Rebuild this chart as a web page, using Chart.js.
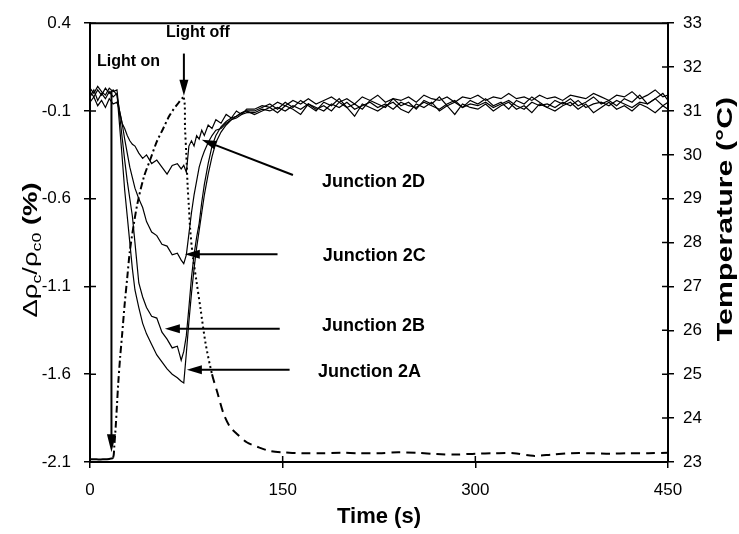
<!DOCTYPE html>
<html>
<head>
<meta charset="utf-8">
<script src="https://cdn.jsdelivr.net/npm/chart.js@4/dist/chart.umd.min.js"></script>
<style>
  body { margin: 0; background: #fff; }
  canvas { display: block; }
</style>
</head>
<body>
<canvas id="junctionChart" width="739" height="534"></canvas>
<script>
// time axis for the four junction traces (s)
const timeJ = [0, 3, 6, 9, 12, 15, 18, 21, 23, 25, 27, 29, 31, 33, 35, 38, 41, 44, 48, 52, 56, 60, 64, 68, 71, 73, 75,
  77, 79, 81, 83, 85, 87, 89, 92, 95, 98, 102, 106, 110, 114, 118, 122,
  128, 134, 140, 146, 152, 158, 164, 170, 176, 182, 188, 194, 200, 206, 212, 218, 224, 230, 236, 242, 248, 254,
  260, 266, 272, 278, 284, 290, 296, 302, 308, 314, 320, 326, 332, 338, 344, 350, 356, 362, 368, 374, 380, 386,
  392, 398, 404, 410, 416, 422, 428, 434, 440, 446, 450];

// delta rho_c / rho_c0 (%)
const junction2D = [-0.05, -0.02, -0.07, -0.04, -0.08, -0.03, -0.06, -0.05, -0.1, -0.17, -0.2, -0.24, -0.27, -0.29, -0.3,
  -0.34, -0.37, -0.35, -0.4, -0.38, -0.42, -0.46, -0.41, -0.4, -0.43, -0.41, -0.45,
  -0.3, -0.27, -0.3, -0.24, -0.26, -0.21, -0.24, -0.18, -0.2, -0.15, -0.17, -0.12, -0.14, -0.1, -0.12, -0.09,
  -0.09, -0.07, -0.08, -0.05, -0.07, -0.04, -0.06, -0.03, -0.06, -0.04,
  -0.02, -0.05, -0.03, -0.06, -0.02, -0.04, -0.01, -0.05, -0.03, -0.04,
  -0.02, -0.05, -0.01, -0.03, -0.04, -0.02, -0.05, -0.02, -0.03, -0.01,
  -0.04, -0.02, -0.03, 0.0, -0.03, -0.02, -0.04, -0.01, -0.03, -0.02,
  -0.04, -0.01, -0.02, -0.03, 0.0, -0.02, -0.04, -0.01, -0.02, 0.01,
  -0.03, -0.01, 0.02, -0.02, -0.01];

const junction2C = [0.01, -0.02, 0.02, -0.01, 0.03, 0.0, 0.02, -0.01, -0.1, -0.17, -0.26, -0.34, -0.42, -0.48, -0.54,
  -0.6, -0.65, -0.73, -0.79, -0.81, -0.86, -0.87, -0.92, -0.91, -0.95, -0.97, -0.92,
  -0.8, -0.68, -0.58, -0.5, -0.42, -0.37, -0.33, -0.28, -0.24, -0.21, -0.2, -0.17, -0.15, -0.14, -0.12, -0.11,
  -0.11, -0.09, -0.1, -0.08, -0.1, -0.07, -0.09, -0.06, -0.08, -0.1,
  -0.06, -0.08, -0.05, -0.09, -0.07, -0.05, -0.08, -0.06, -0.09, -0.05,
  -0.07, -0.08, -0.05, -0.07, -0.09, -0.06, -0.04, -0.08, -0.06, -0.07,
  -0.05, -0.08, -0.06, -0.04, -0.07, -0.09, -0.05, -0.07, -0.06, -0.08,
  -0.05, -0.07, -0.04, -0.08, -0.06, -0.05, -0.07, -0.04, -0.06, -0.08,
  -0.05, -0.06, -0.03, -0.07, -0.05];

const junction2B = [0.03, 0.0, 0.04, 0.01, -0.01, 0.03, 0.01, 0.02, -0.12, -0.25, -0.38, -0.5, -0.6, -0.7, -0.85,
  -1.08, -1.16, -1.22, -1.27, -1.28, -1.36, -1.4, -1.45, -1.44, -1.52, -1.47, -1.38,
  -1.22, -1.05, -0.92, -0.82, -0.74, -0.62, -0.52, -0.4, -0.3, -0.24, -0.19, -0.16, -0.14, -0.13, -0.11, -0.1,
  -0.12, -0.1, -0.08, -0.11, -0.07, -0.09, -0.12, -0.06, -0.09, -0.07,
  -0.1, -0.05, -0.08, -0.13, -0.06, -0.08, -0.1, -0.07, -0.05, -0.09,
  -0.11, -0.06, -0.08, -0.05, -0.1, -0.07, -0.12, -0.06, -0.08, -0.09,
  -0.06, -0.1, -0.07, -0.05, -0.09, -0.07, -0.11, -0.06, -0.08, -0.1,
  -0.07, -0.05, -0.09, -0.06, -0.11, -0.08, -0.05, -0.09, -0.07, -0.1,
  -0.06, -0.08, -0.11, -0.07, -0.09];

const junction2A = [-0.02, 0.02, -0.04, 0.0, -0.03, 0.01, -0.02, 0.0, -0.18, -0.36, -0.55, -0.7, -0.85, -1.0, -1.12,
  -1.22, -1.31, -1.37, -1.43, -1.49, -1.53, -1.57, -1.6, -1.62, -1.64, -1.65, -1.48,
  -1.3, -1.14, -1.0, -0.88, -0.78, -0.68, -0.58, -0.46, -0.36, -0.28, -0.22, -0.18, -0.15, -0.13, -0.11, -0.1,
  -0.1, -0.08, -0.06, -0.09, -0.05, -0.08, -0.04, -0.07, -0.1, -0.05,
  -0.07, -0.03, -0.08, -0.06, -0.09, -0.04, -0.06, -0.08, -0.03, -0.07,
  -0.05, -0.09, -0.04, -0.06, -0.02, -0.07, -0.05, -0.08, -0.04, -0.06,
  -0.03, -0.07, -0.05, -0.09, -0.04, -0.06, -0.02, -0.05, -0.08, -0.04,
  -0.06, -0.03, -0.07, -0.05, -0.02, -0.06, -0.04, -0.07, -0.03, -0.05,
  -0.01, -0.06, -0.03, 0.0, -0.04];

// temperature trace (right axis, deg C)
const timeT = [0, 5, 10, 15, 18, 19, 20, 21, 22, 23.5, 25, 27, 29, 31, 34, 37, 42, 47, 52, 57, 62, 68, 73,
  74, 75, 76, 77, 78, 80, 83, 86, 90, 95, 99, 104, 109, 114, 122, 130, 140,
  150, 165, 180, 195, 210, 225, 240, 255, 270, 285, 300, 315, 330, 345, 360, 375, 390, 405, 420, 435, 450];
const temperature = [23.06, 23.06, 23.06, 23.07, 23.1, 23.4, 23.8, 24.3, 24.8, 25.4, 25.9, 26.6, 27.2, 27.8, 28.4,
  28.9, 29.5, 29.9, 30.3, 30.6, 30.9, 31.15, 31.3,
  30.6, 30.0, 29.3, 28.8, 28.3, 27.7, 27.1, 26.5, 25.7, 25.0, 24.6, 24.1, 23.8, 23.65, 23.45, 23.35, 23.25,
  23.22, 23.2, 23.2, 23.21, 23.2, 23.2, 23.22, 23.21, 23.18, 23.17, 23.19, 23.2, 23.2, 23.14, 23.17, 23.2,
  23.2, 23.19, 23.2, 23.2, 23.21];

const timeTicks = [0, 150, 300, 450];

// annotation arrows and labels, in data units (time, left axis)
const noteArrows = [
  { from: [16.7, 0.015], to: [16.7, -2.044], head: 18 },
  { from: [73.1, 0.227], to: [73.1, -0.013], head: 16 },
  { from: [158, -0.465], to: [87.0, -0.264], head: 15 },
  { from: [146, -0.917], to: [73.8, -0.917], head: 15 },
  { from: [147.7, -1.341], to: [58.3, -1.341], head: 15 },
  { from: [155.4, -1.575], to: [75.4, -1.575], head: 15 }
];
const noteLabels = [
  { text: "Light on", x: 5.4, y: 0.182, size: 16 },
  { text: "Light off", x: 59.1, y: 0.344, size: 16 },
  { text: "Junction 2D", x: 180.6, y: -0.504, size: 18 },
  { text: "Junction 2C", x: 181.2, y: -0.928, size: 18 },
  { text: "Junction 2B", x: 180.6, y: -1.324, size: 18 },
  { text: "Junction 2A", x: 177.5, y: -1.587, size: 18 }
];

const FONT = "'Liberation Sans', Arial, sans-serif";

function pts(xs, ys) {
  return xs.map((t, i) => ({ x: t, y: ys[i] }));
}

function junctionSet(label, values) {
  return {
    label: label,
    data: pts(timeJ, values),
    yAxisID: "y",
    borderColor: "#000",
    borderWidth: 1.2,
    pointRadius: 0,
    tension: 0,
    fill: false
  };
}

function tempDash(ctx) {
  const t = ctx.p0.parsed.x;
  if (t < 18) return [];
  if (t < 73) return [7, 3, 2, 3];
  if (t < 92) return [2, 3];
  return [9, 6];
}

const extras = {
  id: "extras",
  afterDraw(chart) {
    const c = chart.ctx;
    const xs = chart.scales.x, ys = chart.scales.y, y2 = chart.scales.y2;
    const area = chart.chartArea;
    c.save();
    c.strokeStyle = "#000";
    c.fillStyle = "#000";

    // top frame line
    c.lineWidth = 2;
    c.beginPath();
    c.moveTo(area.left, area.top);
    c.lineTo(area.right, area.top);
    c.stroke();

    // inner half of the crossing tick marks
    c.lineWidth = 1.5;
    c.beginPath();
    xs.ticks.forEach(tk => {
      const px = xs.getPixelForValue(tk.value);
      c.moveTo(px, area.bottom);
      c.lineTo(px, area.bottom - 6);
    });
    ys.ticks.forEach(tk => {
      const py = ys.getPixelForValue(tk.value);
      c.moveTo(area.left, py);
      c.lineTo(area.left + 6, py);
    });
    y2.ticks.forEach(tk => {
      const py = y2.getPixelForValue(tk.value);
      c.moveTo(area.right, py);
      c.lineTo(area.right - 6, py);
    });
    c.stroke();

    // arrows
    noteArrows.forEach(a => {
      const x0 = xs.getPixelForValue(a.from[0]), yA = ys.getPixelForValue(a.from[1]);
      const x1 = xs.getPixelForValue(a.to[0]), yB = ys.getPixelForValue(a.to[1]);
      const ang = Math.atan2(yB - yA, x1 - x0);
      c.lineWidth = 2;
      c.beginPath();
      c.moveTo(x0, yA);
      c.lineTo(x1 - Math.cos(ang) * a.head * 0.8, yB - Math.sin(ang) * a.head * 0.8);
      c.stroke();
      c.save();
      c.translate(x1, yB);
      c.rotate(ang);
      c.beginPath();
      c.moveTo(0, 0);
      c.lineTo(-a.head, -4.5);
      c.lineTo(-a.head, 4.5);
      c.closePath();
      c.fill();
      c.restore();
    });

    // labels
    c.textAlign = "left";
    c.textBaseline = "middle";
    noteLabels.forEach(l => {
      c.font = "bold " + l.size + "px " + FONT;
      c.fillText(l.text, xs.getPixelForValue(l.x), ys.getPixelForValue(l.y));
    });

    // left axis title: delta rho_c / rho_c0 (%)
    const parts = [
      { t: "\u0394\u03c1", f: "20px " + FONT, dy: 0 },
      { t: "c", f: "13px " + FONT, dy: 4 },
      { t: "/\u03c1", f: "20px " + FONT, dy: 0 },
      { t: "c0", f: "13px " + FONT, dy: 4 },
      { t: " (%)", f: "bold 20px " + FONT, dy: 0 }
    ];
    let total = 0;
    parts.forEach(p => { c.font = p.f; p.w = c.measureText(p.t).width; total += p.w; });
    c.save();
    c.translate(37, 250);
    c.rotate(-Math.PI / 2);
    c.scale(1.37, 1);
    c.textBaseline = "alphabetic";
    let pos = -total / 2;
    parts.forEach(p => {
      c.font = p.f;
      c.fillText(p.t, pos, p.dy);
      pos += p.w;
    });
    c.restore();

    // right axis title
    c.save();
    c.translate(732, 219);
    c.rotate(-Math.PI / 2);
    c.scale(1.38, 1);
    c.font = "bold 22px " + FONT;
    c.textAlign = "center";
    c.textBaseline = "alphabetic";
    c.fillText("Temperature (\u00b0C)", 0, 0);
    c.restore();

    c.restore();
  }
};

const tickFont = { family: FONT, size: 17 };

new Chart(document.getElementById("junctionChart"), {
  type: "line",
  data: {
    datasets: [
      junctionSet("Junction 2A", junction2A),
      junctionSet("Junction 2B", junction2B),
      junctionSet("Junction 2C", junction2C),
      junctionSet("Junction 2D", junction2D),
      {
        label: "Temperature",
        data: pts(timeT, temperature),
        yAxisID: "y2",
        borderColor: "#000",
        borderWidth: 2,
        pointRadius: 0,
        tension: 0.3,
        fill: false,
        segment: { borderDash: tempDash }
      }
    ]
  },
  options: {
    responsive: false,
    devicePixelRatio: 1,
    animation: false,
    layout: { padding: { top: 14, left: 0, right: 0, bottom: 0 } },
    plugins: { legend: { display: false }, tooltip: { enabled: false } },
    scales: {
      x: {
        type: "linear",
        min: 0,
        max: 450,
        afterBuildTicks: s => { s.ticks = timeTicks.map(v => ({ value: v })); },
        afterFit: s => { s.height = 72; },
        ticks: { color: "#000", font: tickFont, padding: 12, maxRotation: 0 },
        grid: { drawOnChartArea: false, color: "#000", lineWidth: 1.5, tickLength: 6 },
        border: { color: "#000", width: 2 },
        title: {
          display: true,
          text: "Time (s)",
          color: "#000",
          font: { family: FONT, size: 22, weight: "bold" },
          padding: { top: 0, bottom: 4 }
        }
      },
      y: {
        position: "left",
        min: -2.1,
        max: 0.4,
        afterFit: s => { s.width = 90; },
        ticks: { stepSize: 0.5, color: "#000", font: tickFont, padding: 13, callback: v => Number(v).toFixed(1) },
        grid: { drawOnChartArea: false, color: "#000", lineWidth: 1.5, tickLength: 6 },
        border: { color: "#000", width: 2 }
      },
      y2: {
        position: "right",
        min: 23,
        max: 33,
        afterFit: s => { s.width = 71; },
        ticks: { stepSize: 1, color: "#000", font: tickFont, padding: 9 },
        grid: { drawOnChartArea: false, color: "#000", lineWidth: 1.5, tickLength: 6 },
        border: { color: "#000", width: 2 }
      }
    }
  },
  plugins: [extras]
});
</script>
</body>
</html>
